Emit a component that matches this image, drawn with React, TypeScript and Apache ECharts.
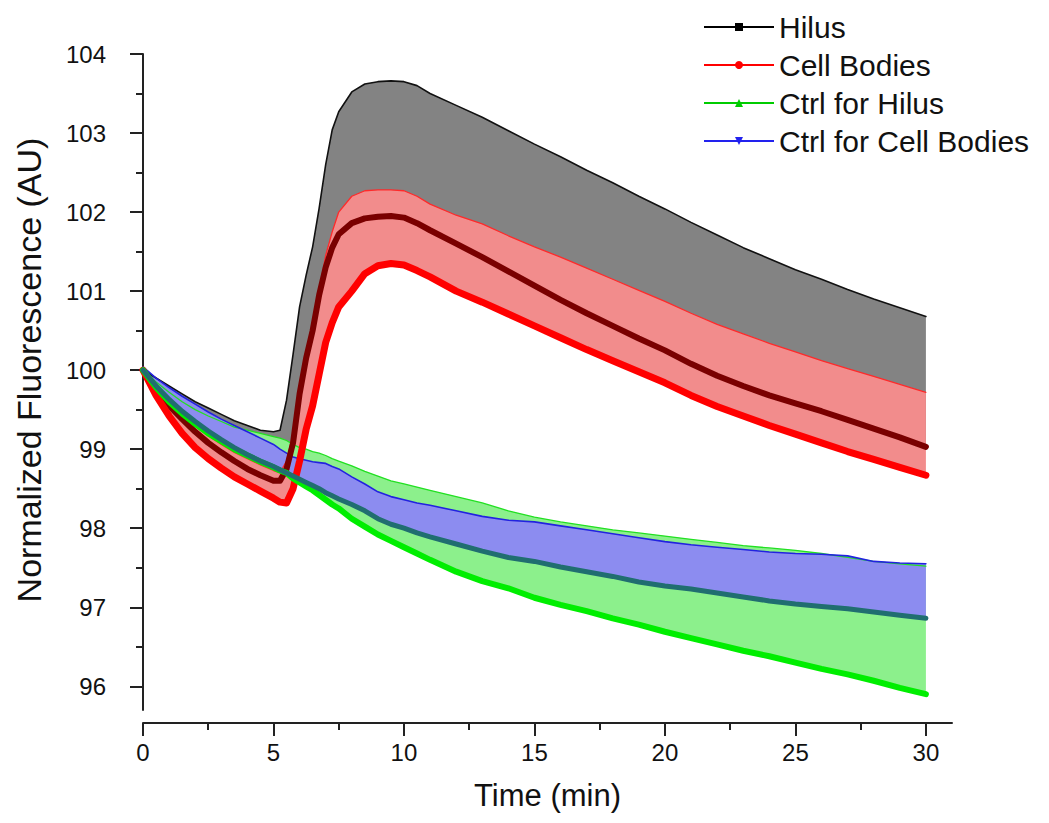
import React, { useEffect, useRef } from "react";
import * as echarts from "echarts";

// ---- data ----
const TIME = [
  0, 0.5, 1, 1.5, 2, 2.5, 3, 3.5, 4, 4.5, 5,
  5.25, 5.5, 5.75, 6, 6.25, 6.5, 6.75, 7, 7.25, 7.5,
  8, 8.5, 9, 9.5, 10, 10.5, 11,
  12, 13, 14, 15, 16, 17, 18, 19, 20, 21, 22, 23, 24, 25, 26, 27, 28, 29, 30,
];

const HILUS_MEAN = [
  100.0, 99.75, 99.55, 99.38, 99.22, 99.08, 98.96, 98.85, 98.75, 98.67, 98.6,
  98.6, 98.75, 99.08, 99.7, 100.15, 100.5, 100.95, 101.3, 101.55, 101.72,
  101.86, 101.92, 101.94, 101.95, 101.93, 101.86, 101.77,
  101.6, 101.43, 101.25, 101.07, 100.89, 100.72, 100.56, 100.4, 100.25, 100.08, 99.93, 99.8, 99.68, 99.58, 99.48, 99.37, 99.26, 99.15, 99.03,
];
const HILUS_UPPER = [
  100.0, 99.9, 99.8, 99.7, 99.6, 99.52, 99.44, 99.36, 99.3, 99.24, 99.22,
  99.24, 99.62, 100.2, 100.8, 101.2, 101.56, 102.05, 102.6, 103.04, 103.27,
  103.52, 103.62, 103.65, 103.66, 103.65, 103.6, 103.5,
  103.35, 103.2, 103.03, 102.86, 102.7, 102.53, 102.37, 102.2, 102.04, 101.87, 101.71, 101.55, 101.41, 101.27, 101.15, 101.02, 100.9, 100.79, 100.68,
];
const CELL_MEAN = [
  100.0, 99.68, 99.42, 99.2, 99.02, 98.88, 98.76, 98.65, 98.56, 98.47, 98.38,
  98.33, 98.32, 98.5, 98.85, 99.25, 99.55, 99.95, 100.35, 100.6, 100.8,
  101.0, 101.22, 101.32, 101.35, 101.33, 101.26, 101.18,
  101.0, 100.86, 100.71, 100.56, 100.41, 100.26, 100.12, 99.98, 99.84, 99.68, 99.54, 99.42, 99.3, 99.19, 99.08, 98.97, 98.87, 98.77, 98.67,
];
const CELL_UPPER = [
  100.0, 99.82, 99.62, 99.45, 99.3, 99.17, 99.06, 98.96, 98.88, 98.8, 98.73,
  98.7, 98.85, 99.2, 99.7, 100.2, 100.6, 101.0, 101.45, 101.75, 102.0,
  102.2, 102.27, 102.28, 102.28, 102.27, 102.2, 102.1,
  101.96, 101.85, 101.7, 101.56, 101.43, 101.29, 101.15, 101.01, 100.87, 100.72, 100.58, 100.46, 100.34, 100.23, 100.12, 100.02, 99.92, 99.82, 99.72,
];
const CTRL_H_MEAN = [
  100.0, 99.78, 99.6, 99.45, 99.32, 99.2, 99.1, 99.0, 98.92, 98.84, 98.77,
  98.73, 98.7, 98.63, 98.58, 98.53, 98.48, 98.42, 98.36, 98.3, 98.25,
  98.12, 98.02, 97.92, 97.84, 97.76, 97.68, 97.6,
  97.45, 97.33, 97.24, 97.12, 97.03, 96.95, 96.86, 96.78, 96.69, 96.61, 96.53, 96.45, 96.38, 96.3, 96.22, 96.15, 96.07, 95.98, 95.9,
];
const CTRL_H_UPPER = [
  100.0, 99.85, 99.72, 99.6, 99.5, 99.42, 99.35, 99.28, 99.24, 99.2, 99.16,
  99.14, 99.11, 99.06, 99.02, 99.0, 98.97, 98.95, 98.92, 98.88, 98.85,
  98.79, 98.72, 98.66, 98.6, 98.56, 98.52, 98.48,
  98.4, 98.32, 98.22, 98.14, 98.08, 98.03, 97.98, 97.94, 97.9, 97.86, 97.82, 97.78, 97.75, 97.72, 97.68, 97.63, 97.58, 97.55, 97.52,
];
const CTRL_C_MEAN = [
  100.0, 99.8, 99.63, 99.48, 99.35, 99.23, 99.12, 99.02, 98.93, 98.85, 98.78,
  98.74, 98.7, 98.66, 98.62, 98.58, 98.54, 98.5, 98.45, 98.41, 98.37,
  98.3, 98.22, 98.12, 98.05, 98.0, 97.94, 97.89,
  97.8, 97.71, 97.63, 97.58, 97.51, 97.45, 97.39, 97.32, 97.27, 97.23, 97.18, 97.13, 97.08, 97.04, 97.01, 96.98, 96.94, 96.9, 96.86,
];
const CTRL_C_UPPER = [
  100.04, 99.9, 99.78, 99.67, 99.57, 99.47, 99.38, 99.3, 99.22, 99.14, 99.06,
  99.0, 98.95, 98.9, 98.88, 98.86, 98.84, 98.83, 98.82, 98.78, 98.75,
  98.65, 98.56, 98.46, 98.4, 98.36, 98.32, 98.29,
  98.22, 98.15, 98.1, 98.08, 98.03, 97.98, 97.93, 97.88, 97.83, 97.79, 97.76, 97.73, 97.7, 97.68, 97.67, 97.65, 97.58, 97.56, 97.55,
];

const LEGEND_NAMES = ["Hilus", "Cell Bodies", "Ctrl for Hilus", "Ctrl for Cell Bodies"];
const Y_TICKS = [96, 97, 98, 99, 100, 101, 102, 103, 104];
const Y_MINOR = [96.5, 97.5, 98.5, 99.5, 100.5, 101.5, 102.5, 103.5];
const X_TICKS = [0, 5, 10, 15, 20, 25, 30];
const X_MINOR = [2.5, 7.5, 12.5, 17.5, 22.5, 27.5];

const FONT = 'Arial, "Liberation Sans", Helvetica, sans-serif';
const AXIS_COLOR = "#222";

function pairs(ys: number[]) {
  return TIME.map((t, i) => [t, ys[i]]);
}

function band(mean: number[], upper: number[], fill: string) {
  return {
    type: "custom",
    silent: true,
    clip: true,
    encode: { x: 0, y: 1 },
    data: [[TIME[0], mean[0]]],
    renderItem: (_params: any, api: any) => {
      const pts: number[][] = [];
      for (let i = 0; i < TIME.length; i++) pts.push(api.coord([TIME[i], upper[i]]));
      for (let i = TIME.length - 1; i >= 0; i--) pts.push(api.coord([TIME[i], mean[i]]));
      return { type: "polygon", shape: { points: pts }, style: { fill } };
    },
  };
}

function line(id: string, ys: number[], color: string, width: number) {
  return {
    type: "line",
    id,
    data: pairs(ys),
    symbol: "none",
    showSymbol: false,
    silent: true,
    lineStyle: { color, width, join: "round", cap: "round" },
    itemStyle: { color },
  };
}

function legendSeries(name: string, color: string, symbol: string, rotate = 0) {
  return {
    type: "line",
    name,
    data: [],
    symbol,
    symbolRotate: rotate,
    lineStyle: { color, width: 1.2 },
    itemStyle: { color },
  };
}

export default function App() {
  const ref = useRef<HTMLDivElement>(null);
  useEffect(() => {
    if (!ref.current) return;
    const chart = echarts.init(ref.current, null, { renderer: "svg" });
    const axisLineStyle = { color: AXIS_COLOR, width: 2 };
    const option: any = {
      animation: false,
      backgroundColor: "#fff",
      grid: { left: 143, right: 97, top: 54, bottom: 113 },
      legend: {
        orient: "vertical",
        left: 698,
        top: 6,
        itemWidth: 70,
        itemHeight: 10,
        itemGap: 6,
        selectedMode: false,
        data: LEGEND_NAMES,
        textStyle: { fontSize: 30, color: "#111", fontFamily: FONT, lineHeight: 32 },
      },
      xAxis: [
        {
          type: "value",
          min: 0,
          max: 31,
          position: "bottom",
          offset: 13,
          axisLine: { show: true, lineStyle: axisLineStyle },
          axisTick: { show: true, customValues: X_TICKS, length: 13, lineStyle: axisLineStyle },
          axisLabel: { customValues: X_TICKS, fontSize: 24, color: "#111", fontFamily: FONT, margin: 17 },
          splitLine: { show: false },
          name: "Time (min)",
          nameLocation: "middle",
          nameGap: 57,
          nameTextStyle: { fontSize: 31, color: "#111", fontFamily: FONT },
        },
        {
          type: "value",
          min: 0,
          max: 31,
          position: "bottom",
          offset: 13,
          axisLine: { show: false },
          axisTick: { show: true, customValues: X_MINOR, length: 7, lineStyle: axisLineStyle },
          axisLabel: { show: false },
          splitLine: { show: false },
        },
      ],
      yAxis: [
        {
          type: "value",
          min: 95.7,
          max: 104,
          position: "left",
          offset: 16,
          axisLine: { show: true, lineStyle: axisLineStyle },
          axisTick: { show: true, customValues: Y_TICKS, length: 13, lineStyle: axisLineStyle },
          axisLabel: { customValues: Y_TICKS, fontSize: 24, color: "#111", fontFamily: FONT, margin: 21 },
          splitLine: { show: false },
          name: "Normalized Fluorescence (AU)",
          nameLocation: "middle",
          nameGap: 81,
          nameTextStyle: { fontSize: 34, color: "#111", fontFamily: FONT, padding: [0, 0, 0, 24] },
        },
        {
          type: "value",
          min: 95.7,
          max: 104,
          position: "left",
          offset: 16,
          axisLine: { show: false },
          axisTick: { show: true, customValues: Y_MINOR, length: 7, lineStyle: axisLineStyle },
          axisLabel: { show: false },
          splitLine: { show: false },
        },
      ],
      series: [
        band(HILUS_MEAN, HILUS_UPPER, "#838383"),
        band(CELL_MEAN, CELL_UPPER, "#f28c8c"),
        band(CTRL_H_MEAN, CTRL_H_UPPER, "#8cf08c"),
        band(CTRL_C_MEAN, CTRL_C_UPPER, "#8c8cf0"),
        line("hilus-upper", HILUS_UPPER, "#111111", 1.6),
        line("cell-upper", CELL_UPPER, "#ff2a2a", 1.3),
        line("ctrlh-upper", CTRL_H_UPPER, "#22e022", 1.3),
        line("ctrlc-upper", CTRL_C_UPPER, "#2222e0", 1.6),
        line("hilus-mean", HILUS_MEAN, "#7a0000", 6),
        line("cell-mean", CELL_MEAN, "#ff0000", 7),
        line("ctrlh-mean", CTRL_H_MEAN, "#00ee00", 6),
        line("ctrlc-mean", CTRL_C_MEAN, "#206e70", 5),
        legendSeries("Hilus", "#000000", "rect"),
        legendSeries("Cell Bodies", "#ff0000", "circle"),
        legendSeries("Ctrl for Hilus", "#00cc00", "triangle"),
        legendSeries("Ctrl for Cell Bodies", "#2222ee", "triangle", 180),
      ],
    };
    chart.setOption(option);
    return () => chart.dispose();
  }, []);
  return (
    <div
      ref={ref}
      style={{ position: "absolute", left: 0, top: 0, width: 1049, height: 823, background: "#fff" }}
    />
  );
}
